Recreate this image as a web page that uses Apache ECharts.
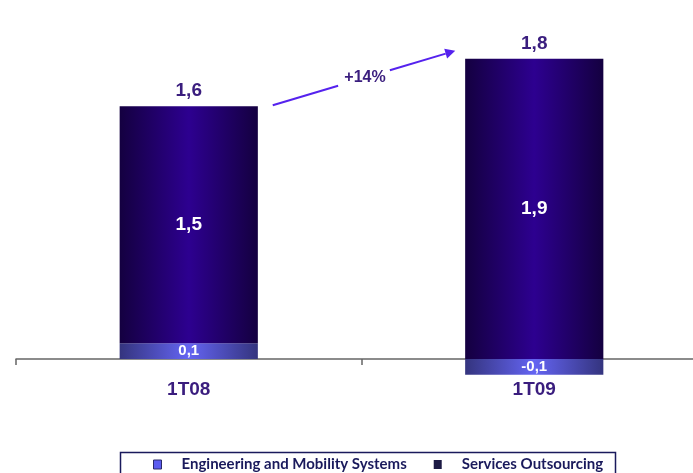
<!DOCTYPE html>
<html><head><meta charset="utf-8">
<script src="https://cdn.jsdelivr.net/npm/echarts@6/dist/echarts.min.js"></script>
<style>html,body{margin:0;padding:0;background:#fff;overflow:hidden}#c{width:707px;height:473px}</style>
</head><body><div id="c"></div>
<script>
const categories = ['1T08', '1T09'];
const engineering = [0.1, -0.1];
const services = [1.5, 1.9];
const totals = [1.6, 1.8];
const growthLabel = '+14%';
const seriesNames = ['Engineering and Mobility Systems', 'Services Outsourcing'];

const fmt = v => (v < 0 ? '-' : '') + Math.abs(v).toFixed(1).replace('.', ',');
const posTop = categories.map((c, i) => Math.max(engineering[i], 0) + Math.max(services[i], 0));

const G = echarts.graphic;
const darkGrad = new G.LinearGradient(0, 0, 1, 0, [
  {offset: 0, color: '#140040'}, {offset: 0.5, color: '#2d0090'}, {offset: 1, color: '#140040'}]);
const lightGrad = new G.LinearGradient(0, 0, 1, 0, [
  {offset: 0, color: '#34347e'}, {offset: 0.5, color: '#6464f2'}, {offset: 1, color: '#34347e'}]);

const chart = echarts.init(document.getElementById('c'), null, {renderer: 'canvas'});
const FONT = '"Liberation Sans", Arial, sans-serif';
const TXT = '#3a1d7e';
chart.setOption({
  animation: false,
  backgroundColor: '#ffffff',
  grid: {left: 16, right: 0, top: 43, bottom: 114, containLabel: false},
  xAxis: {
    type: 'category', data: categories,
    axisLine: {lineStyle: {color: '#666', width: 1.5}},
    axisTick: {show: true, length: 6, lineStyle: {color: '#666', width: 1.5}},
    axisLabel: {margin: 21, fontFamily: FONT, fontWeight: 'bold', fontSize: 19, color: TXT}
  },
  yAxis: {type: 'value', min: 0, max: 2.0, show: false, splitLine: {show: false}},
  legend: {
    left: 148, top: 452, itemGap: 27, itemWidth: 8, itemHeight: 9,
    textStyle: {fontFamily: 'Lato, sans-serif', fontWeight: 'bold', fontSize: 15, color: '#1a1a5c',
      padding: [0, 0, 0, 15]},
    data: [
      {name: seriesNames[0], icon: 'rect', itemStyle: {color: '#5c5cf0', borderColor: '#2a2a6a', borderWidth: 1}},
      {name: seriesNames[1], icon: 'rect', itemStyle: {color: '#1c1a44'}}
    ]
  },
  series: [
    {
      name: seriesNames[0], type: 'bar', stack: 's', barWidth: '40%', data: engineering, clip: false,
      itemStyle: {color: lightGrad},
      label: {show: true, position: 'inside', formatter: p => fmt(p.value),
        fontFamily: FONT, fontWeight: 'bold', fontSize: 15, color: '#fff'}
    },
    {
      name: seriesNames[1], type: 'bar', stack: 's', barWidth: '40%', data: services, clip: false,
      itemStyle: {color: darkGrad},
      label: {show: true, position: 'inside', formatter: p => fmt(p.value),
        fontFamily: FONT, fontWeight: 'bold', fontSize: 19, color: '#fff'}
    },
    {
      name: 'total', type: 'scatter', symbolSize: 0, silent: true,
      itemStyle: {opacity: 1},
      data: posTop.map((v, i) => ({value: [i, v], total: totals[i]})),
      label: {show: true, position: 'top', distance: 6, formatter: p => fmt(p.data.total),
        fontFamily: FONT, fontWeight: 'bold', fontSize: 19, color: TXT, opacity: 1}
    }
  ]
});

// growth arrow between bar tops
const a = chart.convertToPixel({seriesIndex: 2}, [0, posTop[0]]);
const b = chart.convertToPixel({seriesIndex: 2}, [1, posTop[1]]);
const x0 = a[0] + 84, y0 = a[1] - 1;
const x1 = b[0] - 79, y1 = b[1] - 8;
const dx = x1 - x0, dy = y1 - y0, L = Math.hypot(dx, dy), ux = dx / L, uy = dy / L;
const mx = (x0 + x1) / 2, my = (y0 + y1) / 2;
const gap = 27;
const ah = 10, aw = 5;
const tip = [x1, y1], base = [x1 - ux * ah, y1 - uy * ah];
chart.setOption({graphic: [
  {type: 'rect', left: 118, top: 450, shape: {width: 495, height: 22},
    style: {fill: 'none', stroke: '#1a1a5c', lineWidth: 1.5}, z: -1},
  {type: 'line', shape: {x1: x0, y1: y0, x2: mx - ux * gap, y2: my - uy * gap},
    style: {stroke: '#5522ee', lineWidth: 2}},
  {type: 'line', shape: {x1: mx + ux * gap, y1: my + uy * gap, x2: base[0], y2: base[1]},
    style: {stroke: '#5522ee', lineWidth: 2}},
  {type: 'polygon', shape: {points: [tip,
      [base[0] - uy * aw, base[1] + ux * aw], [base[0] + uy * aw, base[1] - ux * aw]]},
    style: {fill: '#5522ee'}},
  {type: 'text', x: mx + 1, y: my, style: {text: growthLabel, fontFamily: FONT, fontWeight: 'bold',
    fontSize: 16, fill: TXT, align: 'center', verticalAlign: 'middle'}}
]});
</script></body></html>
